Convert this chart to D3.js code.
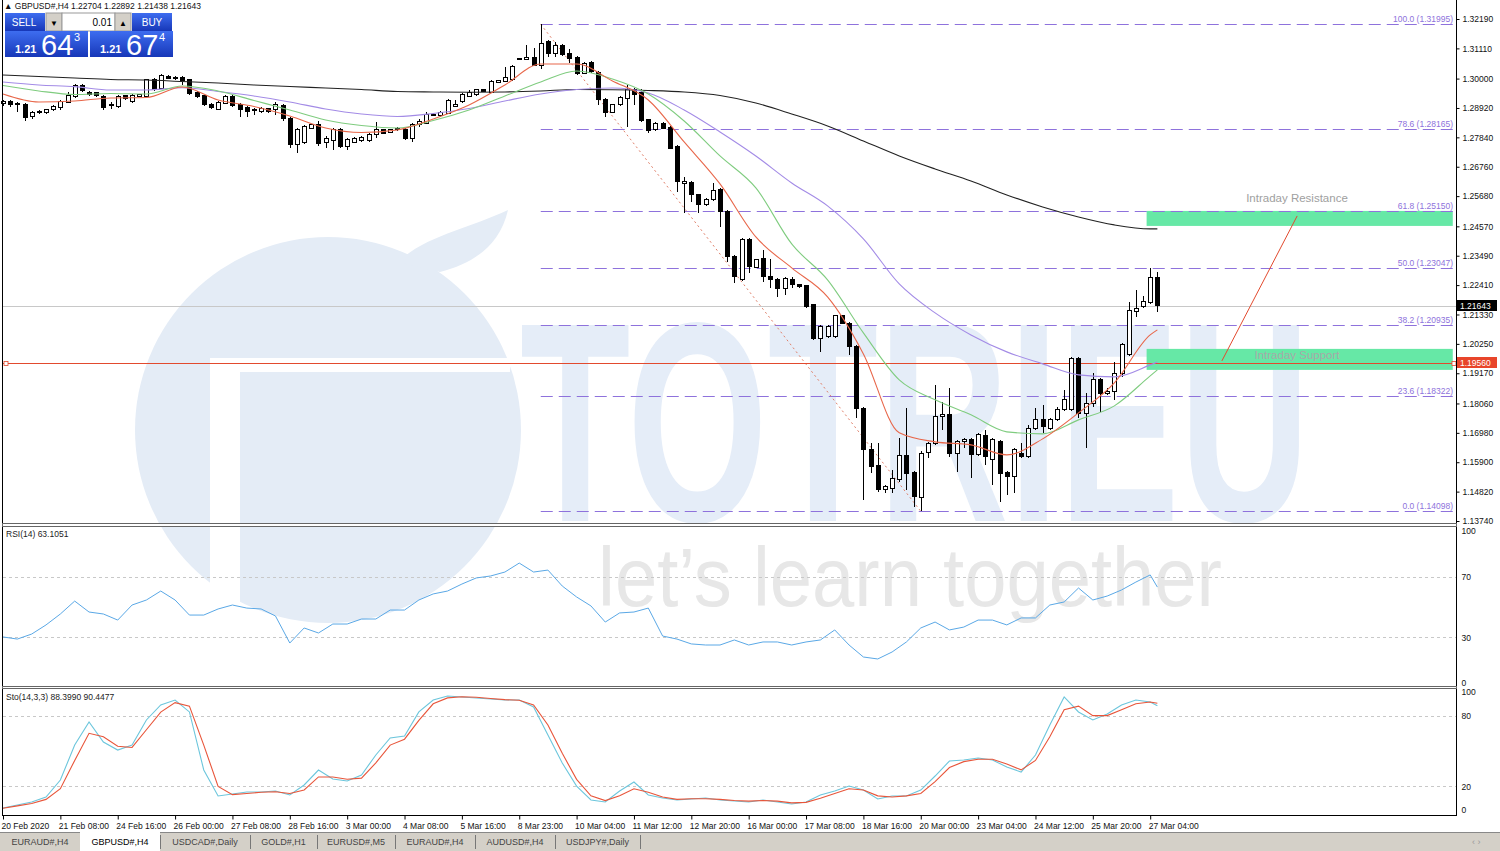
<!DOCTYPE html>
<html><head><meta charset="utf-8">
<script src="https://cdn.jsdelivr.net/npm/d3@7"></script>
<style>
html,body{margin:0;padding:0;background:#fff;overflow:hidden}
svg{display:block}
text{font-family:"Liberation Sans",Arial,sans-serif}
</style></head>
<body><svg id="c" width="1500" height="851"></svg>
<script>
// ---------------- DATA ----------------
const opens=[1.29067,1.29141,1.29086,1.29030,1.28600,1.28773,1.28736,1.28847,1.28931,1.29130,1.29335,1.29728,1.29482,1.29482,1.29335,1.29005,1.28968,1.29361,1.29152,1.29335,1.29335,1.29949,1.29644,1.30070,1.29986,1.30048,1.29949,1.29482,1.29361,1.29056,1.28872,1.29093,1.29335,1.29056,1.28931,1.28872,1.28773,1.28883,1.28847,1.29005,1.28542,1.27561,1.27645,1.28174,1.28295,1.27634,1.27708,1.28112,1.27498,1.27660,1.27708,1.27708,1.27928,1.28112,1.28027,1.28112,1.28112,1.27807,1.28295,1.28358,1.28637,1.28637,1.28725,1.28968,1.29152,1.29335,1.29398,1.29582,1.29497,1.29864,1.29886,1.29949,1.30709,1.30709,1.30783,1.30474,1.31356,1.30930,1.31198,1.30930,1.30768,1.30195,1.30584,1.30217,1.29240,1.28762,1.29030,1.29277,1.29582,1.29482,1.28479,1.28112,1.28358,1.28196,1.27498,1.26154,1.26176,1.25724,1.25356,1.25540,1.25907,1.25110,1.23457,1.22601,1.24070,1.23068,1.23398,1.22722,1.22626,1.22296,1.22626,1.22417,1.22380,1.21682,1.20459,1.20517,1.20517,1.21278,1.21010,1.20150,1.17887,1.16355,1.15767,1.14885,1.14948,1.15253,1.16135,1.15521,1.14617,1.16256,1.16601,1.17578,1.17641,1.16234,1.16660,1.16748,1.16171,1.16869,1.15987,1.16660,1.15521,1.15374,1.16234,1.16109,1.17152,1.17483,1.17152,1.17457,1.17825,1.17825,1.19724,1.17703,1.18071,1.18927,1.18439,1.18497,1.19173,1.19845,1.21436,1.21620,1.21767,1.22704];
const highs=[1.29214,1.29214,1.29141,1.29104,1.28810,1.28847,1.28883,1.29030,1.29214,1.29497,1.29802,1.29784,1.29545,1.29508,1.29398,1.29152,1.29379,1.29398,1.29416,1.29434,1.29986,1.30022,1.30169,1.30114,1.30096,1.30077,1.29986,1.29526,1.29398,1.29104,1.29177,1.29398,1.29379,1.29093,1.28994,1.28920,1.28957,1.28920,1.29152,1.29067,1.28589,1.28185,1.28295,1.28332,1.28442,1.27891,1.28185,1.28167,1.27799,1.27855,1.27891,1.27983,1.28417,1.28149,1.28149,1.28222,1.28185,1.28351,1.28498,1.28755,1.28736,1.28810,1.29232,1.29214,1.29453,1.29563,1.29618,1.29618,1.29930,1.29949,1.30437,1.30482,1.30775,1.31235,1.31113,1.31995,1.31400,1.31356,1.31253,1.31077,1.30812,1.30610,1.30628,1.30261,1.29269,1.29067,1.29361,1.29765,1.29637,1.29607,1.28516,1.28406,1.28387,1.28240,1.27542,1.26374,1.26238,1.25761,1.25595,1.26176,1.25962,1.25154,1.23501,1.24125,1.24125,1.23372,1.23703,1.23361,1.22674,1.22693,1.22700,1.22454,1.22417,1.21719,1.20929,1.20948,1.21315,1.21315,1.21058,1.20194,1.17935,1.16601,1.16601,1.15069,1.15620,1.16785,1.17887,1.15584,1.16318,1.16630,1.18743,1.18130,1.18622,1.16722,1.16796,1.16796,1.16961,1.17090,1.16778,1.16722,1.15584,1.16429,1.16601,1.17274,1.17887,1.18008,1.17512,1.17946,1.18560,1.19772,1.19772,1.18438,1.19173,1.18982,1.18622,1.19599,1.20275,1.21804,1.22233,1.22013,1.23030,1.22892];
const lows=[1.28994,1.28957,1.28773,1.28442,1.28516,1.28700,1.28700,1.28810,1.28847,1.29104,1.29288,1.29508,1.29361,1.29324,1.28847,1.28883,1.28920,1.29214,1.29104,1.29306,1.29288,1.29545,1.29618,1.29967,1.29949,1.29765,1.29398,1.29288,1.28994,1.28883,1.28828,1.29067,1.28957,1.28600,1.28600,1.28663,1.28718,1.28736,1.28663,1.28442,1.27462,1.27256,1.27597,1.28130,1.27535,1.27439,1.27378,1.27451,1.27378,1.27616,1.27671,1.27671,1.27807,1.27947,1.27991,1.28075,1.27744,1.27682,1.28222,1.28314,1.28608,1.28600,1.28681,1.28939,1.29104,1.29306,1.29361,1.29490,1.29453,1.29828,1.29857,1.29912,1.30684,1.30684,1.30445,1.30342,1.30805,1.30805,1.30831,1.30562,1.30133,1.30151,1.30206,1.29030,1.28600,1.28718,1.28994,1.28233,1.29030,1.28387,1.27991,1.28075,1.28130,1.27395,1.25845,1.25051,1.25478,1.25051,1.25301,1.25503,1.24559,1.23273,1.22502,1.22546,1.22847,1.23023,1.22539,1.22296,1.21987,1.22050,1.22296,1.22307,1.21561,1.20396,1.19967,1.20470,1.20470,1.20966,1.19845,1.17531,1.14518,1.15499,1.14812,1.14764,1.14764,1.15179,1.14885,1.14272,1.14098,1.16050,1.16539,1.17090,1.16109,1.15558,1.16417,1.15315,1.16135,1.15804,1.15069,1.14455,1.14702,1.14764,1.16061,1.16061,1.17090,1.16968,1.17090,1.17420,1.17788,1.17788,1.17520,1.16417,1.17946,1.17762,1.18376,1.18192,1.19048,1.19808,1.21252,1.21561,1.21719,1.21438];
const closes=[1.29141,1.29030,1.29030,1.28553,1.28762,1.28791,1.28847,1.28968,1.29152,1.29361,1.29728,1.29545,1.29398,1.29372,1.28931,1.29056,1.29335,1.29251,1.29372,1.29398,1.29949,1.29582,1.30096,1.30011,1.30048,1.29923,1.29460,1.29335,1.29056,1.28931,1.29130,1.29335,1.29005,1.28847,1.28784,1.28810,1.28909,1.28784,1.29056,1.28542,1.27561,1.28112,1.28233,1.28295,1.27623,1.27807,1.28112,1.27498,1.27744,1.27807,1.27829,1.27928,1.28112,1.27991,1.28112,1.28174,1.27807,1.28295,1.28417,1.28689,1.28689,1.28762,1.29177,1.29030,1.29398,1.29497,1.29582,1.29519,1.29886,1.29912,1.30022,1.30437,1.30728,1.30783,1.30474,1.31297,1.30930,1.31198,1.30867,1.30746,1.30195,1.30562,1.30254,1.29240,1.28747,1.29030,1.29313,1.29607,1.29398,1.28442,1.28075,1.28358,1.28174,1.27439,1.26212,1.26212,1.25724,1.25356,1.25540,1.25882,1.25110,1.23457,1.22722,1.24070,1.23090,1.23336,1.22722,1.22601,1.22296,1.22637,1.22417,1.22355,1.21620,1.20459,1.20885,1.20885,1.21278,1.21010,1.20150,1.17887,1.16355,1.15742,1.14885,1.15007,1.15315,1.16135,1.15499,1.14639,1.16234,1.16576,1.17578,1.17641,1.16234,1.16660,1.16748,1.16171,1.16906,1.16109,1.16722,1.15499,1.15374,1.16381,1.16109,1.17152,1.17483,1.17211,1.17457,1.17825,1.18192,1.19724,1.17703,1.18071,1.18927,1.18439,1.18497,1.19173,1.20213,1.21473,1.21561,1.21804,1.22700,1.21643];

const timeLabels=["20 Feb 2020","21 Feb 08:00","24 Feb 16:00","26 Feb 00:00","27 Feb 08:00","28 Feb 16:00","3 Mar 00:00","4 Mar 08:00","5 Mar 16:00","8 Mar 23:00","10 Mar 04:00","11 Mar 12:00","12 Mar 20:00","16 Mar 00:00","17 Mar 08:00","18 Mar 16:00","20 Mar 00:00","23 Mar 04:00","24 Mar 12:00","25 Mar 20:00","27 Mar 04:00"];
const timeLabelIdx=[0,8,16,24,32,40,48,56,64,72,80,88,96,104,112,120,128,136,144,152,160];
const priceTicks=[1.32190,1.31110,1.30000,1.28920,1.27840,1.26760,1.25680,1.24570,1.23490,1.22410,1.21330,1.20250,1.19170,1.18060,1.16980,1.15900,1.14820,1.13740];

const maIdx=[0,5,10,15,20,25,30,35,40,45,50,55,60,65,70,75,80,85,90,95,100,105,110,115,120,125,130,135,140,145,150,155,160,161];
const maRed=[1.29435,1.29141,1.29177,1.29287,1.29306,1.29692,1.29214,1.28975,1.28626,1.28185,1.28020,1.28112,1.28516,1.29030,1.29765,1.30537,1.30537,1.29912,1.29214,1.27671,1.26128,1.24180,1.23042,1.21976,1.19882,1.16980,1.16649,1.16539,1.16171,1.16759,1.17715,1.18816,1.20580,1.20764];
const maGreen=[1.29747,1.29545,1.29416,1.29453,1.29434,1.29728,1.29545,1.29196,1.28847,1.28479,1.28277,1.28185,1.28461,1.28847,1.29361,1.29875,1.30279,1.29986,1.29434,1.28442,1.27156,1.25981,1.23924,1.22601,1.20654,1.18926,1.18192,1.17641,1.17017,1.16943,1.17457,1.17972,1.19074,1.19294];
const maPurple=[1.29875,1.29765,1.29703,1.29581,1.29581,1.29666,1.29526,1.29361,1.29141,1.28883,1.28700,1.28608,1.28718,1.28902,1.29177,1.29434,1.29600,1.29655,1.29471,1.28847,1.28038,1.27156,1.26164,1.25320,1.24107,1.22454,1.21388,1.20580,1.19956,1.19515,1.19111,1.19037,1.19478,1.19588];
const maBlack=[1.30132,1.30077,1.30022,1.29967,1.29949,1.29894,1.29839,1.29765,1.29710,1.29655,1.29600,1.29526,1.29508,1.29497,1.29508,1.29545,1.29600,1.29592,1.29563,1.29508,1.29379,1.29104,1.28700,1.28259,1.27708,1.27156,1.26679,1.26238,1.25724,1.25282,1.24915,1.24622,1.24475,1.24475];

const fibLevels=["100.0","78.6","61.8","50.0","38.2","23.6","0.0"];
const fibPrices=[1.31995,1.28165,1.25150,1.23047,1.20935,1.18322,1.14098];
const fibStartIdx=75, fibEndIdx=128;
const supportLine=1.19560, lastPrice=1.21643;
const zoneStartIdx=159.5, zoneEndIdx=202.2;
const resistanceZone=[1.24585,1.25136], supportZone=[1.19294,1.20066];
const arrowIdx=[170,180.5], arrowPrice=[1.19625,1.24952];

const oscIdx=[0,2,4,6,8,10,12,14,16,18,20,22,24,26,28,30,32,34,36,38,40,42,44,46,48,50,52,54,56,58,60,62,64,66,68,70,72,74,76,78,80,82,84,86,88,90,92,94,96,98,100,102,104,106,108,110,112,114,116,118,120,122,124,126,128,130,132,134,136,138,140,142,144,146,148,150,152,154,156,158,160,161];
const rsi=[30.3,28.9,32.2,38.2,45.4,53.9,46.7,45.4,41.4,51.3,54.6,60.5,54.6,44.7,44.7,48.7,51.3,49.3,48.7,44.1,26.3,36.2,32.9,38.8,38.8,42.1,42.1,48.0,48.0,54.6,58.6,60.5,65.1,69.1,70.4,73.0,78.9,73.0,74.3,63.8,56.6,50.7,40.1,46.1,46.7,49.3,30.9,28.9,25.7,25.0,25.0,28.3,25.0,27.0,27.0,25.0,27.0,28.3,34.9,25.0,17.1,15.8,20.4,27.0,36.2,40.1,34.9,36.8,41.4,41.4,38.2,42.8,42.8,51.3,53.3,62.5,54.6,57.2,61.2,66.4,71.1,63.1];
const stoMain=[1.7,4.2,6.8,11.0,25.4,55.1,74.6,57.6,50.8,55.1,76.3,89.0,93.2,83.1,33.9,11.9,13.6,15.3,15.3,16.1,12.7,21.2,33.9,26.3,24.6,29.7,46.6,61.0,62.7,83.1,93.2,96.6,95.8,94.9,94.1,93.2,93.2,87.3,63.6,39.8,20.3,8.5,6.8,16.1,23.7,12.7,10.2,8.5,9.3,10.2,8.5,7.6,6.8,8.5,6.8,5.1,6.8,12.7,16.1,20.3,16.9,9.3,11.9,11.9,16.9,28.8,41.5,42.4,44.1,42.4,36.4,32.2,46.6,72.0,95.8,83.1,76.3,81.4,89.0,93.2,91.5,88.4];
const stoSignal=[1.5,3.5,5.5,9,18,42,65,62,54,53,68,83,91,88,55,20,13,14,15,15.5,14,17,28,28,26,27,40,55,60,76,90,95,96,95.5,94.5,93.5,93,89,72,48,26,12,8,12,18,15,11,9,9.5,9.5,9,8,7.5,8,7.5,6,6.5,10,14,18,17,12,11,12,14,24,36,41,43,43,39,34,42,62,85,88,80,80,85,90,91.5,90.4];

const tabs=["EURAUD#,H4","GBPUSD#,H4","USDCAD#,Daily","GOLD#,H1","EURUSD#,M5","EURAUD#,H4","AUDUSD#,H4","USDJPY#,Daily"];
const tabEdges=[0,80,160,250,317,395,475,555,640];
const activeTab=1;

// ---------------- LAYOUT ----------------
const svg=d3.select("#c");
const X0=3, AX=1456;
const x=d3.scaleLinear().domain([0,202]).range([X0,X0+7.17*202]);
const y=d3.scaleLinear().domain([1.13740,1.32190]).range([521,19]);
const yR=d3.scaleLinear().domain([0,100]).range([683,531]);
const yS=d3.scaleLinear().domain([0,100]).range([810,692]);
const F='"Liberation Sans",Arial,sans-serif';

svg.append("rect").attr("width",1500).attr("height",851).attr("fill","#fff");

// ---------- watermark ----------
const wm=svg.append("g");
wm.append("circle").attr("cx",328).attr("cy",430).attr("r",193).attr("fill","#e4ecf6");
wm.append("path").attr("d","M398,262 C425,236 470,228 508,210 C500,246 472,264 440,272 Z").attr("fill","#e4ecf6");
wm.append("rect").attr("x",210).attr("y",358).attr("width",300).attr("height",14).attr("fill","#fff");
wm.append("rect").attr("x",210).attr("y",358).attr("width",30).attr("height",270).attr("fill","#fff");
function stretchText(g,str,x0,base,w,size,weight,fill){
  const t=g.append("text").attr("font-size",size).attr("font-weight",weight)
    .attr("font-family","Roboto,'Liberation Sans',sans-serif").attr("fill",fill).text(str);
  const nat=t.node().getComputedTextLength()||w;
  t.attr("transform",`translate(${x0},${base}) scale(${w/nat},1)`);
}
stretchText(wm,"TOTRIEU",520,521,790,285,"bold","#e5edf8");
stretchText(wm,"let\u2019s learn together",598,606,624,84,"500","#e7e7e7");

// ---------- zones ----------
const main=svg.append("g");
[resistanceZone,supportZone].forEach(z=>{
  main.append("rect").attr("x",x(zoneStartIdx)).attr("width",x(zoneEndIdx)-x(zoneStartIdx))
    .attr("y",y(z[1])).attr("height",y(z[0])-y(z[1])).attr("fill","#66e8a6");
});

// fib lines
fibPrices.forEach((p,i)=>{
  main.append("line").attr("x1",x(fibStartIdx)).attr("x2",AX-1).attr("y1",Math.round(y(p))+0.5).attr("y2",Math.round(y(p))+0.5)
    .attr("stroke","#8e72dc").attr("stroke-width",1).attr("stroke-dasharray","12,6");
  main.append("text").attr("x",AX-3).attr("y",Math.round(y(p))-2).attr("text-anchor","end")
    .attr("font-size",8.5).attr("fill","#8e72dc").text(`${fibLevels[i]} (${p.toFixed(5)})`);
});
// fib trend line
main.append("line").attr("x1",x(fibStartIdx)).attr("y1",y(fibPrices[0])).attr("x2",x(fibEndIdx)).attr("y2",y(fibPrices[6]))
  .attr("stroke","#e0806a").attr("stroke-width",1).attr("stroke-dasharray","2,3");

// last price line
main.append("line").attr("x1",X0).attr("x2",AX).attr("y1",Math.round(y(lastPrice))+0.5).attr("y2",Math.round(y(lastPrice))+0.5)
  .attr("stroke","#c8c8c8");
// support line
main.append("line").attr("x1",X0).attr("x2",AX).attr("y1",Math.round(y(supportLine))+0.5).attr("y2",Math.round(y(supportLine))+0.5)
  .attr("stroke","#e24a2e");
[X0+1,AX-4].forEach(px=>main.append("rect").attr("x",px).attr("y",Math.round(y(supportLine))-1.5).attr("width",4).attr("height",4)
  .attr("fill","#fff").attr("stroke","#e24a2e").attr("stroke-width",0.8));

// zone labels & arrow
main.append("line").attr("x1",x(arrowIdx[0])).attr("y1",y(arrowPrice[0])).attr("x2",x(arrowIdx[1])).attr("y2",y(arrowPrice[1]))
  .attr("stroke","#e24a2e").attr("stroke-width",1);
main.append("text").attr("x",1297).attr("y",202).attr("text-anchor","middle").attr("font-size",11.5).attr("fill","#a0a0a0").text("Intraday Resistance");
main.append("text").attr("x",1297).attr("y",359).attr("text-anchor","middle").attr("font-size",11.5).attr("fill","#a8a8a8").text("Intraday Support");

// ---------- candles ----------
const bars=d3.range(opens.length).map(i=>({i,o:opens[i],h:highs[i],l:lows[i],c:closes[i]}));
const cg=main.append("g").attr("shape-rendering","crispEdges");
cg.selectAll("line").data(bars).join("line")
  .attr("x1",d=>Math.round(x(d.i))+0.5).attr("x2",d=>Math.round(x(d.i))+0.5)
  .attr("y1",d=>y(d.h)).attr("y2",d=>y(d.l)).attr("stroke","#000");
cg.selectAll("rect").data(bars).join("rect")
  .attr("x",d=>Math.round(x(d.i))-2+0.5).attr("width",4)
  .attr("y",d=>Math.min(y(d.o),y(d.c))).attr("height",d=>Math.max(1,Math.abs(y(d.o)-y(d.c))))
  .attr("fill",d=>d.c>=d.o?"#fff":"#000").attr("stroke","#000");

// ---------- MAs ----------
const maLine=d3.line().x((d,i)=>x(maIdx[i])).y(d=>y(d)).curve(d3.curveMonotoneX);
[[maBlack,"#222"],[maPurple,"#a38be6"],[maGreen,"#7fcc7f"],[maRed,"#e8674a"]].forEach(([arr,col])=>{
  main.append("path").attr("d",maLine(arr)).attr("fill","none").attr("stroke",col).attr("stroke-width",1.1);
});

// ---------- oscillators ----------
const osc=svg.append("g");
[70,30].forEach(v=>osc.append("line").attr("x1",X0).attr("x2",AX).attr("y1",Math.round(yR(v))+0.5).attr("y2",Math.round(yR(v))+0.5)
  .attr("stroke","#c8c8c8").attr("stroke-dasharray","3,3"));
[80,20].forEach(v=>osc.append("line").attr("x1",X0).attr("x2",AX).attr("y1",Math.round(yS(v))+0.5).attr("y2",Math.round(yS(v))+0.5)
  .attr("stroke","#c8c8c8").attr("stroke-dasharray","3,3"));
const rl=d3.line().x((d,i)=>x(oscIdx[i])).y(d=>yR(d));
osc.append("path").attr("d",rl(rsi)).attr("fill","none").attr("stroke","#5aa8e6").attr("stroke-width",1);
const sl=d3.line().x((d,i)=>x(oscIdx[i])).y(d=>yS(d));
osc.append("path").attr("d",sl(stoMain)).attr("fill","none").attr("stroke","#6cc6dc").attr("stroke-width",1.1);
osc.append("path").attr("d",sl(stoSignal)).attr("fill","none").attr("stroke","#e8553a").attr("stroke-width",1.1);
osc.append("text").attr("x",6).attr("y",537).attr("font-size",8.5).attr("fill","#222").text("RSI(14) 63.1051");
osc.append("text").attr("x",6).attr("y",700).attr("font-size",8.5).attr("fill","#222").text("Sto(14,3,3) 88.3990 90.4477");

// ---------- frames ----------
const fr=svg.append("g").attr("shape-rendering","crispEdges");
fr.append("line").attr("x1",2.5).attr("x2",2.5).attr("y1",0).attr("y2",816).attr("stroke","#000");
fr.append("line").attr("x1",AX+0.5).attr("x2",AX+0.5).attr("y1",0).attr("y2",816).attr("stroke","#000");
fr.append("rect").attr("x",2).attr("y",523.5).attr("width",AX-2).attr("height",3).attr("fill","#fff").attr("stroke","#666");
fr.append("rect").attr("x",2).attr("y",686.5).attr("width",AX-2).attr("height",2).attr("fill","#fff").attr("stroke","#666");
fr.append("line").attr("x1",2).attr("x2",AX+1).attr("y1",815.5).attr("y2",815.5).attr("stroke","#000");

// price axis
const pa=svg.append("g").attr("transform",`translate(${AX+0.5},0)`)
  .call(d3.axisRight(y).tickValues(priceTicks).tickFormat(d3.format(".5f")).tickSize(3).tickPadding(3));
pa.select(".domain").remove();
pa.selectAll("text").attr("font-size",8.5).attr("font-family",F).attr("fill","#111");
const ra=svg.append("g").attr("transform",`translate(${AX+0.5},0)`)
  .call(d3.axisRight(yR).tickValues([100,70,30,0]).tickSize(3).tickPadding(2));
ra.select(".domain").remove(); ra.selectAll("line").remove();
ra.selectAll("text").attr("font-size",8.5).attr("font-family",F).attr("fill","#111");
const sa=svg.append("g").attr("transform",`translate(${AX+0.5},0)`)
  .call(d3.axisRight(yS).tickValues([100,80,20,0]).tickSize(3).tickPadding(2));
sa.select(".domain").remove(); sa.selectAll("line").remove();
sa.selectAll("text").attr("font-size",8.5).attr("font-family",F).attr("fill","#111");

// price labels
const lab=(p,bg)=>{const yy=Math.round(y(p));
  svg.append("rect").attr("x",AX+1).attr("y",yy-6).attr("width",40).attr("height",11).attr("fill",bg);
  svg.append("text").attr("x",AX+4).attr("y",yy+3).attr("font-size",8.5).attr("fill","#fff").text(p.toFixed(5));};
lab(lastPrice,"#000"); lab(supportLine,"#e8452a");

// time axis
const ta=svg.append("g").attr("transform","translate(0,815.5)")
  .call(d3.axisBottom(x).tickValues(timeLabelIdx).tickFormat((d,i)=>timeLabels[i]).tickSize(4).tickPadding(3));
ta.select(".domain").remove();
ta.selectAll("text").attr("font-size",8.5).attr("font-family",F).attr("fill","#111").attr("text-anchor","start").attr("dx",-2);

// tabs
const tb=svg.append("g");
tb.append("rect").attr("x",0).attr("y",832).attr("width",1500).attr("height",19).attr("fill","#d4d0c8");
tb.append("line").attr("x1",0).attr("x2",1500).attr("y1",832.5).attr("y2",832.5).attr("stroke","#888");
tabs.forEach((t,i)=>{
  if(i===activeTab) tb.append("rect").attr("x",tabEdges[i]).attr("y",832).attr("width",tabEdges[i+1]-tabEdges[i]).attr("height",19).attr("fill","#fff");
  tb.append("line").attr("x1",tabEdges[i+1]+0.5).attr("x2",tabEdges[i+1]+0.5).attr("y1",835).attr("y2",849).attr("stroke","#777");
  tb.append("text").attr("x",(tabEdges[i]+tabEdges[i+1])/2).attr("y",845).attr("text-anchor","middle")
    .attr("font-size",9).attr("fill",i===activeTab?"#000":"#444").text(t);
});
tb.append("text").attr("x",1472).attr("y",845).attr("font-size",9).attr("fill","#999").text("\u2039   \u203A");

// header
svg.append("text").attr("x",4).attr("y",9).attr("font-size",8.5).attr("fill","#111")
  .text("\u25B2 GBPUSD#,H4  1.22704 1.22892 1.21438 1.21643");

// one-click panel
const oc=svg.append("g");
const defs=svg.append("defs");
const gr=defs.append("linearGradient").attr("id","bl").attr("x1",0).attr("y1",0).attr("x2",0).attr("y2",1);
gr.append("stop").attr("offset","0").attr("stop-color","#3e6df0");
gr.append("stop").attr("offset","1").attr("stop-color","#1737b8");
oc.append("rect").attr("x",5).attr("y",13).attr("width",40).attr("height",18).attr("fill","url(#bl)");
oc.append("rect").attr("x",132).attr("y",13).attr("width",40).attr("height",18).attr("fill","url(#bl)");
oc.append("rect").attr("x",46).attr("y",13).attr("width",16).attr("height",18).attr("fill","#d4d0c8").attr("stroke","#999");
oc.append("rect").attr("x",62).attr("y",13).attr("width",53).attr("height",18).attr("fill","#fff").attr("stroke","#999");
oc.append("rect").attr("x",115).attr("y",13).attr("width",16).attr("height",18).attr("fill","#d4d0c8").attr("stroke","#999");
oc.append("text").attr("x",54).attr("y",26).attr("text-anchor","middle").attr("font-size",8).text("\u25BC");
oc.append("text").attr("x",123).attr("y",26).attr("text-anchor","middle").attr("font-size",8).text("\u25B2");
oc.append("text").attr("x",112).attr("y",26).attr("text-anchor","end").attr("font-size",10).text("0.01");
oc.append("text").attr("x",24).attr("y",26).attr("text-anchor","middle").attr("font-size",10).attr("fill","#fff").text("SELL");
oc.append("text").attr("x",152).attr("y",26).attr("text-anchor","middle").attr("font-size",10).attr("fill","#fff").text("BUY");
[[5,"64","3"],[90,"67","4"]].forEach(([bx,big,sup])=>{
  oc.append("rect").attr("x",bx).attr("y",31).attr("width",83).attr("height",26).attr("fill","url(#bl)");
  oc.append("text").attr("x",bx+10).attr("y",53).attr("font-size",11).attr("font-weight","bold").attr("fill","#fff").text("1.21");
  oc.append("text").attr("x",bx+36).attr("y",55).attr("font-size",29).attr("fill","#fff").text(big);
  oc.append("text").attr("x",bx+69).attr("y",41).attr("font-size",11).attr("fill","#fff").text(sup);
});
</script></body></html>
